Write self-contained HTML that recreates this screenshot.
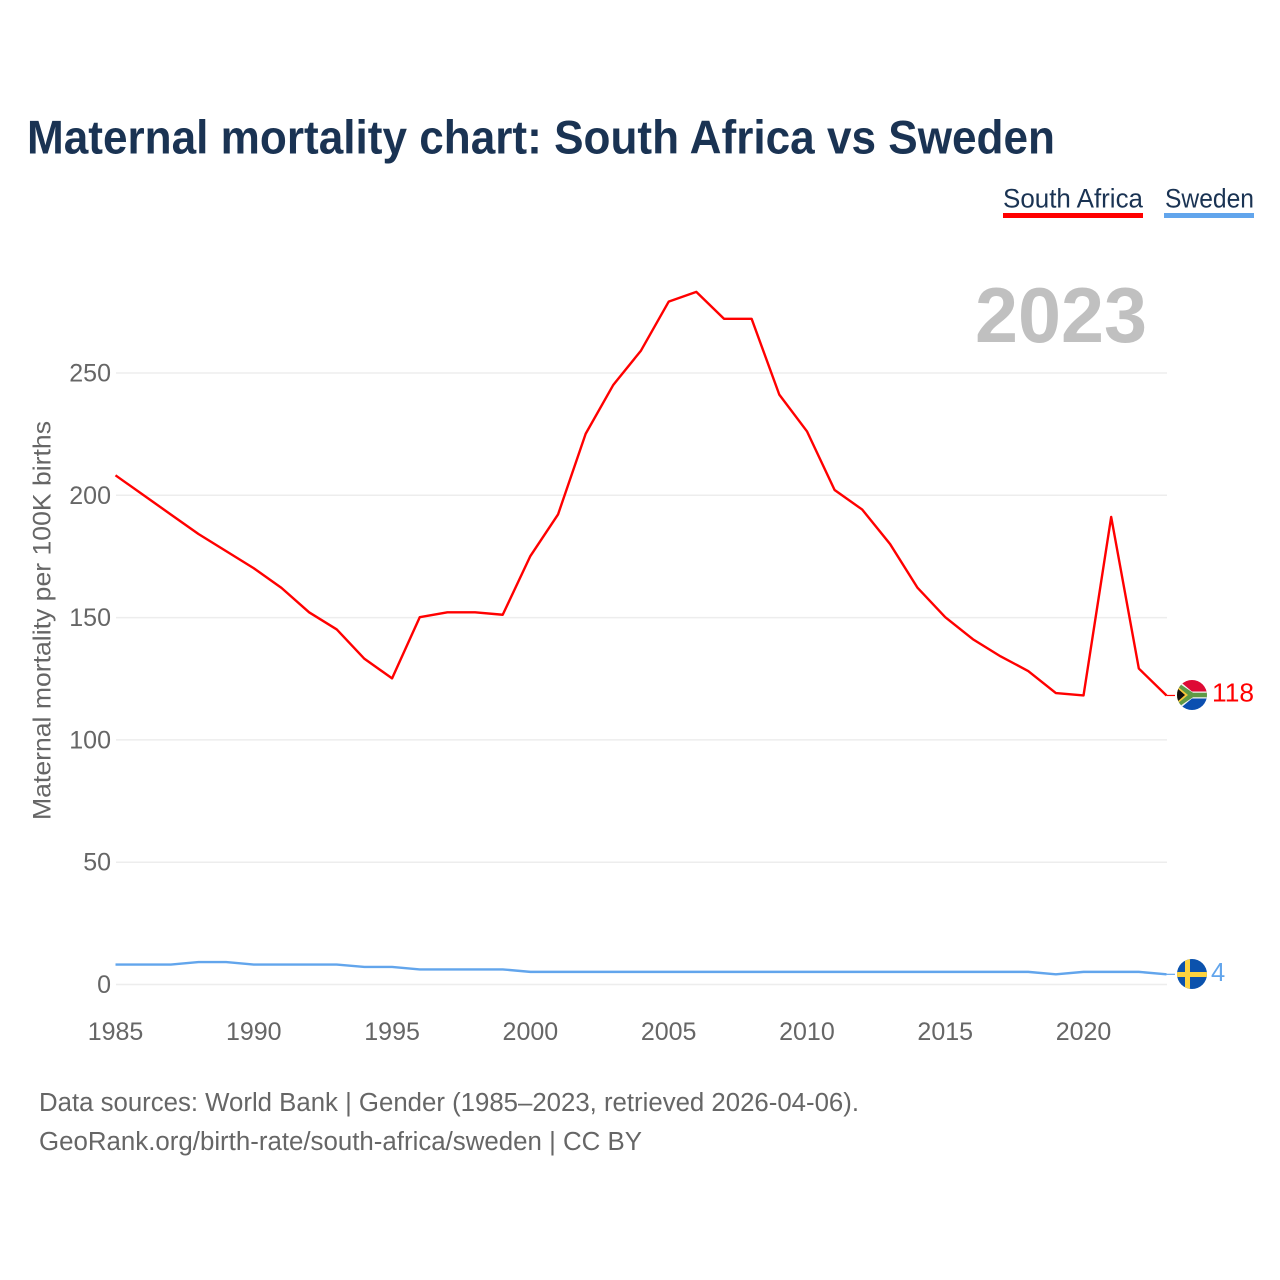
<!DOCTYPE html>
<html lang="en">
<head>
<meta charset="utf-8">
<title>Maternal mortality chart: South Africa vs Sweden</title>
<style>
html,body{margin:0;padding:0;background:#fff;}
svg{display:block;font-family:"Liberation Sans",sans-serif;}
</style>
</head>
<body>
<svg id="chart" xmlns="http://www.w3.org/2000/svg" width="1280" height="1280" viewBox="0 0 1280 1280">
  <rect x="0" y="0" width="1280" height="1280" fill="#ffffff"/>
  <text x="27" y="153.5" font-size="47.5" font-weight="700" fill="#1a3353" textLength="1028" lengthAdjust="spacingAndGlyphs">Maternal mortality chart: South Africa vs Sweden</text>

  <g>
    <text x="1003" y="207.5" font-size="26.5" fill="#1a3353" textLength="140" lengthAdjust="spacingAndGlyphs">South Africa</text>
    <rect x="1003" y="213" width="140" height="5" fill="#ff0000"/>
  </g>
  <g>
    <text x="1165" y="207.5" font-size="26.5" fill="#1a3353" textLength="89" lengthAdjust="spacingAndGlyphs">Sweden</text>
    <rect x="1164" y="213" width="90" height="5" fill="#62a5ec"/>
  </g>

  <g id="grid"></g>
  <g id="yticks"></g>
  <g id="xticks"></g>

  <text x="975" y="342" font-size="78" font-weight="700" fill="#c0c0c0" textLength="172" lengthAdjust="spacingAndGlyphs">2023</text>

  <text transform="translate(50.5,620.5) rotate(-90)" text-anchor="middle" font-size="25" fill="#666666" textLength="399" lengthAdjust="spacingAndGlyphs">Maternal mortality per 100K births</text>

  <g id="series"></g>

  <defs>
    <clipPath id="clip-za"><circle cx="1192" cy="695" r="15"/></clipPath>
    <clipPath id="clip-se"><circle cx="1192" cy="974" r="15"/></clipPath>
  </defs>

  <g clip-path="url(#clip-za)">
    <rect x="1177" y="680" width="30" height="15" fill="#de0a35"/>
    <rect x="1177" y="695" width="30" height="15" fill="#0b4fb0"/>
    <path d="M1177 679 L1192 691.5 L1207 691.5 L1207 698.5 L1192 698.5 L1177 711 Z" fill="#f4f4f4"/>
    <path d="M1177 682 L1193 692.8 L1207 692.8 L1207 697.2 L1193 697.2 L1177 708 Z" fill="#5f9a45"/>
    <path d="M1177 686 L1188 695 L1177 704 Z" fill="#f6c83a"/>
    <path d="M1177 688 L1185 695 L1177 702 Z" fill="#111111"/>
  </g>
  <g clip-path="url(#clip-se)">
    <rect x="1177" y="959" width="30" height="30" fill="#0b52ad"/>
    <rect x="1185" y="959" width="5" height="30" fill="#fdd33f"/>
    <rect x="1177" y="972" width="30" height="5" fill="#fdd33f"/>
  </g>

  <text id="label-za" x="1212" y="701.5" font-size="25.5" fill="#ff0000" textLength="42" lengthAdjust="spacingAndGlyphs"></text>
  <text id="label-se" x="1211" y="981" font-size="25.5" fill="#62a5ec"></text>

  <text x="39" y="1111" font-size="25.5" fill="#666666" textLength="820" lengthAdjust="spacingAndGlyphs">Data sources: World Bank | Gender (1985–2023, retrieved 2026-04-06).</text>
  <text x="39" y="1150" font-size="25.5" fill="#666666" textLength="603" lengthAdjust="spacingAndGlyphs">GeoRank.org/birth-rate/south-africa/sweden | CC BY</text>
</svg>
<script>
const years = [1985,1986,1987,1988,1989,1990,1991,1992,1993,1994,1995,1996,1997,1998,1999,2000,2001,2002,2003,2004,2005,2006,2007,2008,2009,2010,2011,2012,2013,2014,2015,2016,2017,2018,2019,2020,2021,2022,2023];
const southAfrica = [208,200,192,184,177,170,162,152,145,133,125,150,152,152,151,175,192,225,245,259,279,283,272,272,241,226,202,194,180,162,150,141,134,128,119,118,191,129,118];
const sweden = [8,8,8,9,9,8,8,8,8,7,7,6,6,6,6,5,5,5,5,5,5,5,5,5,5,5,5,5,5,5,5,5,5,5,4,5,5,5,4];
const yTickValues = [0,50,100,150,200,250];
const xTickValues = [1985,1990,1995,2000,2005,2010,2015,2020];

const NS = 'http://www.w3.org/2000/svg';
const xScale = function (year) { return 115.5 + (year - 1985) * (1166.5 - 115.5) / (2023 - 1985); };
const yScale = function (value) { return 984.5 - value * (984.5 - 373) / 250; };
const gridLeft = 116;
const gridRight = 1167;
const lineNudgeY = -0.4;

const grid = document.getElementById('grid');
const yticks = document.getElementById('yticks');
const xticks = document.getElementById('xticks');
const seriesGroup = document.getElementById('series');

yTickValues.forEach(function (v) {
  const line = document.createElementNS(NS, 'line');
  
  
  line.setAttribute('x1', gridLeft);
  line.setAttribute('x2', gridRight);
  line.setAttribute('y1', yScale(v));
  line.setAttribute('y2', yScale(v));
  line.setAttribute('stroke', '#ededed');
  line.setAttribute('stroke-width', 1.5);
  grid.appendChild(line);

  const t = document.createElementNS(NS, 'text');
  
  
  t.setAttribute('x', 111);
  t.setAttribute('y', yScale(v) + 8.5);
  t.setAttribute('text-anchor', 'end');
  t.setAttribute('font-size', 25);
  t.setAttribute('fill', '#666666');
  t.textContent = v;
  yticks.appendChild(t);
});

xTickValues.forEach(function (y) {
  const t = document.createElementNS(NS, 'text');
  
  
  t.setAttribute('x', xScale(y));
  t.setAttribute('y', 1040);
  t.setAttribute('text-anchor', 'middle');
  t.setAttribute('font-size', 25);
  t.setAttribute('fill', '#666666');
  t.textContent = y;
  xticks.appendChild(t);
});

function drawSeries(values, color, name) {
  const pts = values.map(function (v, i) { return xScale(years[i]).toFixed(2) + ',' + (yScale(v) + lineNudgeY).toFixed(2); });
  const last = values[values.length - 1];
  const line = document.createElementNS(NS, 'polyline');
  
  
  line.setAttribute('points', pts.join(' '));
  line.setAttribute('fill', 'none');
  line.setAttribute('stroke', color);
  line.setAttribute('stroke-width', 2.4);
  line.setAttribute('stroke-linejoin', 'round');
  seriesGroup.appendChild(line);

  const stub = document.createElementNS(NS, 'line');
  
  
  stub.setAttribute('x1', xScale(years[years.length - 1]));
  stub.setAttribute('x2', 1175);
  stub.setAttribute('y1', yScale(last) + lineNudgeY);
  stub.setAttribute('y2', yScale(last) + lineNudgeY);
  stub.setAttribute('stroke', color);
  stub.setAttribute('stroke-width', 1.2);
  seriesGroup.appendChild(stub);
}
drawSeries(southAfrica, '#ff0000', 'south-africa');
drawSeries(sweden, '#62a5ec', 'sweden');

document.getElementById('label-za').textContent = southAfrica[southAfrica.length - 1];
document.getElementById('label-se').textContent = sweden[sweden.length - 1];
</script>
</body>
</html>
